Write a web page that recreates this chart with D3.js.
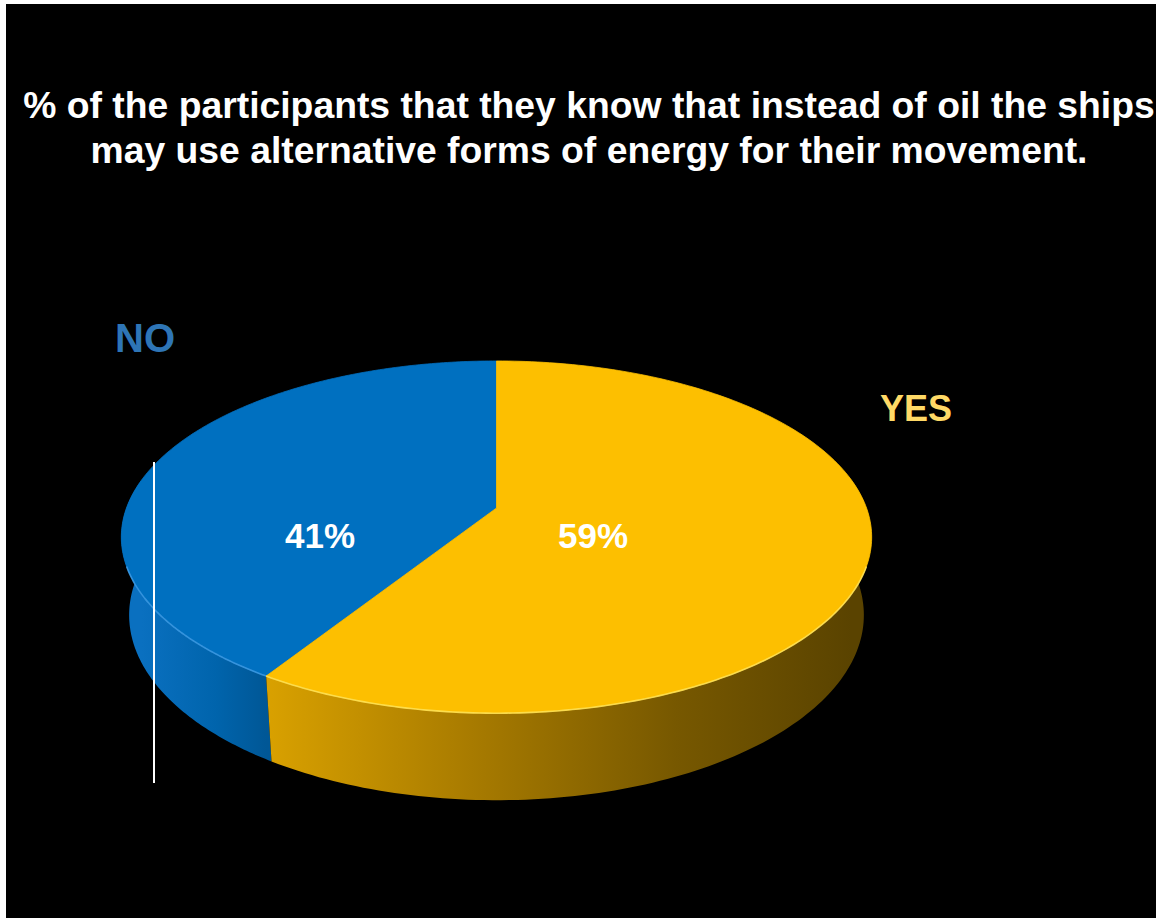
<!DOCTYPE html>
<html>
<head>
<meta charset="utf-8">
<script src="https://cdn.jsdelivr.net/npm/d3@7"></script>
<style>
  html, body { margin: 0; padding: 0; background: #ffffff; }
  svg { display: block; }
  text { font-family: "Liberation Sans", Arial, Helvetica, sans-serif; font-weight: bold; }
</style>
</head>
<body>
<svg id="chart" width="1156" height="918"></svg>
<script>
// ---- data ----
const categories = ["NO", "YES"];
const values = [41, 59];
const valueLabels = ["41%", "59%"];
const titleLines = [
  "% of the participants that they know that instead of oil the ships",
  "may use alternative forms of energy for their movement."
];

// ---- palette ----
const topColors = { NO: "#0070C0", YES: "#FDBF00" };
const edgeColors = { NO: "#3E9BE4", YES: "#FFE45A" };
const sideStops = {
  NO: [["0%", "#0A70C0"], ["60%", "#0064AC"], ["100%", "#005796"]],
  YES: [["0%", "#D9A100"], ["35%", "#A87B00"], ["70%", "#775800"], ["100%", "#5A4300"]]
};
const nameColors = { NO: "#2E75B6", YES: "#FFD966" };

const W = 1156, H = 918;
const svg = d3.select("#chart");

// frame
svg.append("rect").attr("x", 0).attr("y", 0).attr("width", W).attr("height", H).attr("fill", "#ffffff");
svg.append("rect").attr("x", 6).attr("y", 4).attr("width", W - 6).attr("height", H - 4).attr("fill", "#000000");

// ---- perspective projection of a unit-radius disc of thickness `depthH` ----
const cx = 496.5, cy = 508;
const sinP = 0.463, cosP = Math.sqrt(1 - sinP * sinP);
const camD = 5.37, focal = 1987, depthH = 0.24;
function project(theta, r, y) {
  const x = r * Math.sin(theta), z = -r * Math.cos(theta);
  const depth = camD - y * sinP - z * cosP;
  const up = y * cosP - z * sinP;
  return [cx + focal * x / depth, cy - focal * up / depth];
}

// slice angles: NO runs anticlockwise from 12 o'clock
const total = d3.sum(values);
const start = -2 * Math.PI * values[0] / total;
const pie = d3.pie().sort(null).startAngle(start).endAngle(start + 2 * Math.PI);
const arcs = pie(values).map((a, i) => ({ ...a, name: categories[i], label: valueLabels[i] }));

// visible part of the side wall (silhouette of the cylinder)
const silo = Math.acos(cosP / camD);
const visLo = silo, visHi = 2 * Math.PI - silo;
const norm = t => ((t % (2 * Math.PI)) + 2 * Math.PI) % (2 * Math.PI);

function sample(a0, a1, n) {
  return d3.range(n + 1).map(k => a0 + (a1 - a0) * k / n);
}

const line = d3.line();
const defs = svg.append("defs");

// side gradients, running left to right across each visible wall
arcs.forEach(a => {
  const span = a.name === "NO"
    ? [project(visHi, 1, 0)[0], project(a.startAngle, 1, 0)[0]]
    : [project(a.endAngle, 1, 0)[0], project(visLo, 1, 0)[0]];
  const g = defs.append("linearGradient")
    .attr("id", "side-" + a.name)
    .attr("gradientUnits", "userSpaceOnUse")
    .attr("x1", span[0]).attr("x2", span[1]).attr("y1", 0).attr("y2", 0);
  sideStops[a.name].forEach(s => g.append("stop").attr("offset", s[0]).attr("stop-color", s[1]));
});

const sideG = svg.append("g");
const topG = svg.append("g");

arcs.forEach(a => {
  // side wall, clipped to the visible range
  const a0 = norm(a.startAngle), a1 = a0 + (a.endAngle - a.startAngle);
  const lo = Math.max(a0, visLo), hi = Math.min(a1, visHi);
  if (hi > lo) {
    const ts = sample(lo, hi, 120);
    const topPts = ts.map(t => project(t, 1, 0));
    const botPts = ts.slice().reverse().map(t => project(t, 1, -depthH));
    sideG.append("path")
      .attr("d", line(topPts.concat(botPts)) + "Z")
      .attr("fill", "url(#side-" + a.name + ")");
  }
  // top face
  const ts = sample(a.startAngle, a.endAngle, 200);
  const pts = [project(0, 0, 0)].concat(ts.map(t => project(t, 1, 0)));
  topG.append("path")
    .attr("d", line(pts) + "Z")
    .attr("fill", topColors[a.name])
    .attr("stroke", topColors[a.name])
    .attr("stroke-width", 0.8);
  // light rim along the front edge
  if (hi > lo) {
    const rim = sample(Math.max(lo, 1.9), Math.min(hi, 2 * Math.PI - 1.9), 120);
    if (rim.length && rim[rim.length - 1] > rim[0]) {
      topG.append("path")
        .attr("d", line(rim.map(t => project(t, 1, 0))))
        .attr("fill", "none")
        .attr("stroke", edgeColors[a.name])
        .attr("stroke-width", 1.6)
        .attr("stroke-opacity", 0.85);
    }
  }
});

// value labels
const labelPos = { NO: [320, 548], YES: [593, 548] };
arcs.forEach(a => {
  svg.append("text")
    .attr("x", labelPos[a.name][0]).attr("y", labelPos[a.name][1])
    .attr("text-anchor", "middle")
    .attr("font-size", 35)
    .attr("fill", "#ffffff")
    .text(a.label);
});

// category names
svg.append("text").attr("x", 115).attr("y", 352).attr("font-size", 40)
  .attr("fill", nameColors.NO).text(categories[0]);
svg.append("text").attr("x", 880).attr("y", 421).attr("font-size", 36)
  .attr("fill", nameColors.YES).text(categories[1]);

// thin white guide line
svg.append("line").attr("x1", 154).attr("x2", 154).attr("y1", 462).attr("y2", 783)
  .attr("stroke", "#ffffff").attr("stroke-width", 2);

// title
svg.append("g").selectAll("text").data(titleLines).join("text")
  .attr("x", 589).attr("y", (d, i) => 118 + i * 45)
  .attr("text-anchor", "middle")
  .attr("font-size", 37.3)
  .attr("fill", "#ffffff")
  .text(d => d);
</script>
</body>
</html>
